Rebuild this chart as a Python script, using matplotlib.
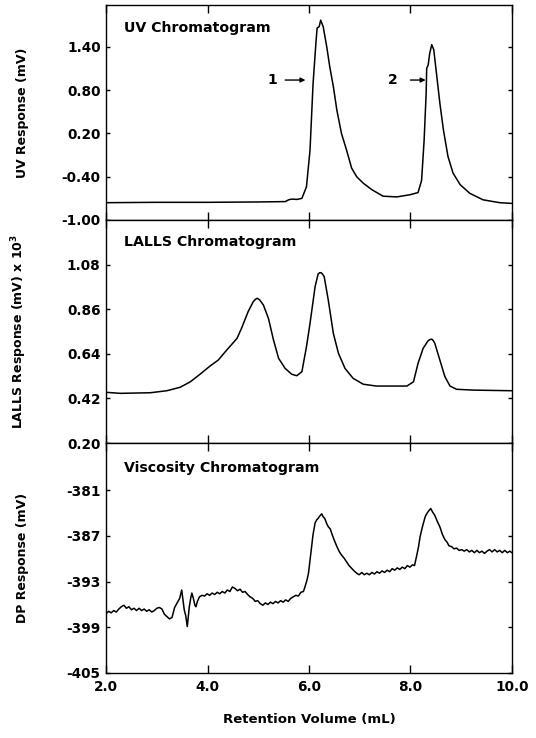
import numpy as np
import matplotlib.pyplot as plt

plt.rcParams['font.family'] = ['DejaVu Sans']
plt.rcParams['font.weight'] = 'bold'
plt.rcParams['mathtext.default'] = 'bf'

# UV chromatogram trace (retention volume in mL, response in mV)
uv_vol = [2.00, 3.00, 4.00, 5.00, 5.53, 5.60, 5.66, 5.76, 5.86, 5.95, 6.02, 6.08, 6.14, 6.16,
          6.20, 6.23, 6.28, 6.35, 6.41, 6.48, 6.55, 6.64, 6.74, 6.84, 6.94, 7.07, 7.24, 7.46,
          7.73, 7.99, 8.15, 8.22, 8.27, 8.31, 8.32, 8.35, 8.38, 8.42, 8.46, 8.52, 8.58, 8.65,
          8.74, 8.84, 8.98, 9.17, 9.43, 9.76, 10.0]
uv_resp = [-0.76, -0.755, -0.755, -0.75, -0.745, -0.72, -0.71, -0.715, -0.70, -0.54, -0.03, 0.89, 1.49, 1.66,
           1.68, 1.77, 1.68, 1.40, 1.12, 0.85, 0.52, 0.20, -0.03, -0.28, -0.40, -0.49, -0.58, -0.67,
           -0.68, -0.65, -0.62, -0.45, 0.11, 0.76, 1.10, 1.15, 1.31, 1.43, 1.36, 0.99, 0.62, 0.25,
           -0.12, -0.35, -0.51, -0.63, -0.72, -0.76, -0.77]

# LALLS chromatogram trace (response in mV x 10^3)
lalls_vol = [2.00, 2.28, 2.87, 3.20, 3.46, 3.66, 3.85, 4.05, 4.21, 4.38, 4.58, 4.67, 4.80, 4.90,
             4.95, 4.98, 5.03, 5.10, 5.20, 5.30, 5.40, 5.53, 5.66, 5.76, 5.86, 5.95, 6.02, 6.12,
             6.18, 6.21, 6.24, 6.27, 6.30, 6.38, 6.48, 6.58, 6.71, 6.87, 7.07, 7.33, 7.93, 8.06,
             8.15, 8.25, 8.35, 8.39, 8.42, 8.45, 8.48, 8.58, 8.68, 8.78, 8.91, 9.24, 9.96, 10.0]
lalls_resp = [0.450, 0.445, 0.448, 0.458, 0.475, 0.502, 0.539, 0.580, 0.609, 0.659, 0.716, 0.766, 0.848, 0.897,
              0.910, 0.914, 0.905, 0.881, 0.815, 0.708, 0.618, 0.568, 0.539, 0.532, 0.552, 0.675, 0.790, 0.971,
              1.034, 1.040, 1.040, 1.032, 1.020, 0.905, 0.741, 0.643, 0.568, 0.519, 0.490, 0.481, 0.481, 0.502,
              0.593, 0.667, 0.705, 0.711, 0.712, 0.705, 0.692, 0.609, 0.527, 0.481, 0.465, 0.461, 0.458, 0.458]

# Viscosity (differential pressure) trace
dp_vol = [2.00, 2.05, 2.10, 2.15, 2.20, 2.25, 2.30, 2.35, 2.40, 2.45, 2.50, 2.55, 2.60, 2.65,
          2.70, 2.75, 2.80, 2.85, 2.90, 2.95, 3.00, 3.05, 3.10, 3.15, 3.20, 3.25, 3.30, 3.35,
          3.40, 3.45, 3.49, 3.52, 3.54, 3.57, 3.60, 3.62, 3.64, 3.67, 3.69, 3.72, 3.75, 3.77,
          3.80, 3.84, 3.89, 3.94, 3.99, 4.04, 4.09, 4.14, 4.19, 4.24, 4.29, 4.34, 4.39, 4.44,
          4.49, 4.54, 4.59, 4.64, 4.69, 4.74, 4.79, 4.84, 4.89, 4.94, 4.99, 5.04, 5.09, 5.14,
          5.19, 5.24, 5.29, 5.34, 5.39, 5.44, 5.49, 5.54, 5.59, 5.64, 5.69, 5.74, 5.79, 5.84,
          5.89, 5.92, 5.96, 5.99, 6.02, 6.05, 6.08, 6.12, 6.15, 6.18, 6.21, 6.25, 6.28, 6.31,
          6.35, 6.38, 6.42, 6.45, 6.50, 6.55, 6.60, 6.64, 6.69, 6.74, 6.79, 6.84, 6.89, 6.94,
          6.99, 7.04, 7.09, 7.14, 7.19, 7.24, 7.29, 7.34, 7.39, 7.44, 7.49, 7.54, 7.59, 7.64,
          7.69, 7.74, 7.79, 7.84, 7.89, 7.94, 7.99, 8.04, 8.08, 8.12, 8.16, 8.19, 8.24, 8.29,
          8.32, 8.35, 8.40, 8.44, 8.48, 8.53, 8.58, 8.63, 8.68, 8.72, 8.76, 8.81, 8.86, 8.91,
          8.96, 9.01, 9.06, 9.11, 9.16, 9.21, 9.26, 9.31, 9.36, 9.41, 9.46, 9.51, 9.56, 9.61,
          9.66, 9.71, 9.76, 9.81, 9.86, 9.91, 9.96, 10.0]
dp_resp = [-397.2, -396.9, -397.1, -396.8, -397.0, -396.6, -396.3, -396.1, -396.5, -396.3, -396.7, -396.5,
           -396.8, -396.5, -396.8, -396.6, -396.9, -396.7, -397.0, -396.8, -396.5, -396.4, -396.6, -397.3,
           -397.6, -397.9, -397.7, -396.4, -395.8, -395.2, -394.1, -395.6, -396.7, -397.5, -398.9, -397.6,
           -396.3, -395.1, -394.5, -395.2, -396.1, -396.3, -395.6, -395.0, -394.8, -394.9, -394.6, -394.8,
           -394.5, -394.7, -394.4, -394.6, -394.3, -394.5, -394.1, -394.3, -393.7, -393.9, -394.2, -394.0,
           -394.4, -394.3, -394.7, -395.0, -395.2, -395.6, -395.5, -395.9, -396.1, -395.8, -396.0, -395.7,
           -395.9, -395.6, -395.8, -395.5, -395.7, -395.4, -395.6, -395.2, -395.0, -394.8, -394.9, -394.4,
           -394.3, -393.7, -392.8, -391.9, -390.2, -388.4, -386.8, -385.3, -384.9, -384.7, -384.4, -384.1,
           -384.5, -384.7, -385.4, -385.8, -386.1, -386.7, -387.6, -388.4, -389.1, -389.5, -389.9, -390.4,
           -390.9, -391.25, -391.6, -391.9, -392.1, -391.8, -392.1, -391.9, -392.1, -391.8, -392.0, -391.7,
           -391.9, -391.6, -391.8, -391.5, -391.7, -391.3, -391.5, -391.2, -391.4, -391.1, -391.3, -390.9,
           -391.1, -390.8, -390.9, -389.7, -388.4, -387.1, -385.7, -384.5, -384.1, -383.8, -383.4, -383.9,
           -384.3, -385.1, -385.8, -386.8, -387.5, -387.8, -388.3, -388.4, -388.7, -388.6, -388.9, -388.8,
           -389.0, -388.8, -389.1, -388.9, -389.2, -388.9, -389.2, -389.0, -389.3, -389.0, -388.8, -389.1,
           -388.8, -389.1, -388.9, -389.2, -388.9, -389.2, -389.0, -389.2]

x_ticks = [2.0, 4.0, 6.0, 8.0, 10.0]
uv_ticks = [-1.00, -0.40, 0.20, 0.80, 1.40]
lalls_ticks = [0.20, 0.42, 0.64, 0.86, 1.08]
dp_ticks = [-405, -399, -393, -387, -381]

fig = plt.figure(figsize=(5.36, 7.38), dpi=100)
left, width = 0.198, 0.757
ax_uv = fig.add_axes([left, 0.7019, width, 0.2913])
ax_ls = fig.add_axes([left, 0.3997, width, 0.3022])
ax_dp = fig.add_axes([left, 0.0881, width, 0.3116])

panels = [
    (ax_uv, uv_vol, uv_resp, (-1.0, 1.98), uv_ticks, '{:.2f}', 'UV Response (mV)', 'UV Chromatogram', 0.893),
    (ax_ls, lalls_vol, lalls_resp, (0.20, 1.30), lalls_ticks, '{:.2f}',
     r'LALLS Response (mV) x 10$^{3}$', 'LALLS Chromatogram', 0.901),
    (ax_dp, dp_vol, dp_resp, (-405, -374.8), dp_ticks, '{:d}', 'DP Response (mV)', 'Viscosity Chromatogram', 0.891),
]

for ax, xs, ys, ylim, yt, fmt, ylab, title, ty in panels:
    ax.plot(xs, ys, color='black', lw=1.1)
    ax.set_xlim(2.0, 10.0)
    ax.set_ylim(*ylim)
    ax.set_xticks(x_ticks)
    ax.set_yticks(yt)
    ax.set_yticklabels([fmt.format(v) for v in yt], fontsize=9.8, fontweight='bold')
    ax.tick_params(axis='x', direction='in', top=True, length=5.5, width=1.0)
    ax.tick_params(axis='y', direction='in', right=True, length=3, width=1.0, pad=4)
    for sp in ax.spines.values():
        sp.set_linewidth(1.0)
    ax.set_ylabel(ylab, fontsize=9, fontweight='bold')
    ax.yaxis.set_label_coords(-0.19, 0.5)
    ax.text(0.044, ty, title, transform=ax.transAxes, fontsize=10.2,
            fontweight='bold', va='center', ha='left')

ax_uv.tick_params(axis='x', labelbottom=False)
ax_ls.tick_params(axis='x', labelbottom=False)
ax_dp.set_xticklabels(['{:.1f}'.format(v) for v in x_ticks], fontsize=9.8, fontweight='bold')
ax_dp.tick_params(axis='x', pad=5)
ax_dp.set_xlabel('Retention Volume (mL)', fontsize=9.5, fontweight='bold', labelpad=14)

# peak markers on the UV trace
for label, xt, xa0, xa1 in [('1', 5.28, 5.53, 5.93), ('2', 7.66, 8.00, 8.30)]:
    ax_uv.text(xt, 0.94, label, fontsize=10, fontweight='bold', ha='center', va='center')
    ax_uv.annotate('', xy=(xa1, 0.94), xytext=(xa0, 0.94),
                   arrowprops=dict(arrowstyle='-|>', color='black', lw=1.0,
                                   mutation_scale=7, shrinkA=0, shrinkB=0))

fig.savefig('out.png', dpi=100)
